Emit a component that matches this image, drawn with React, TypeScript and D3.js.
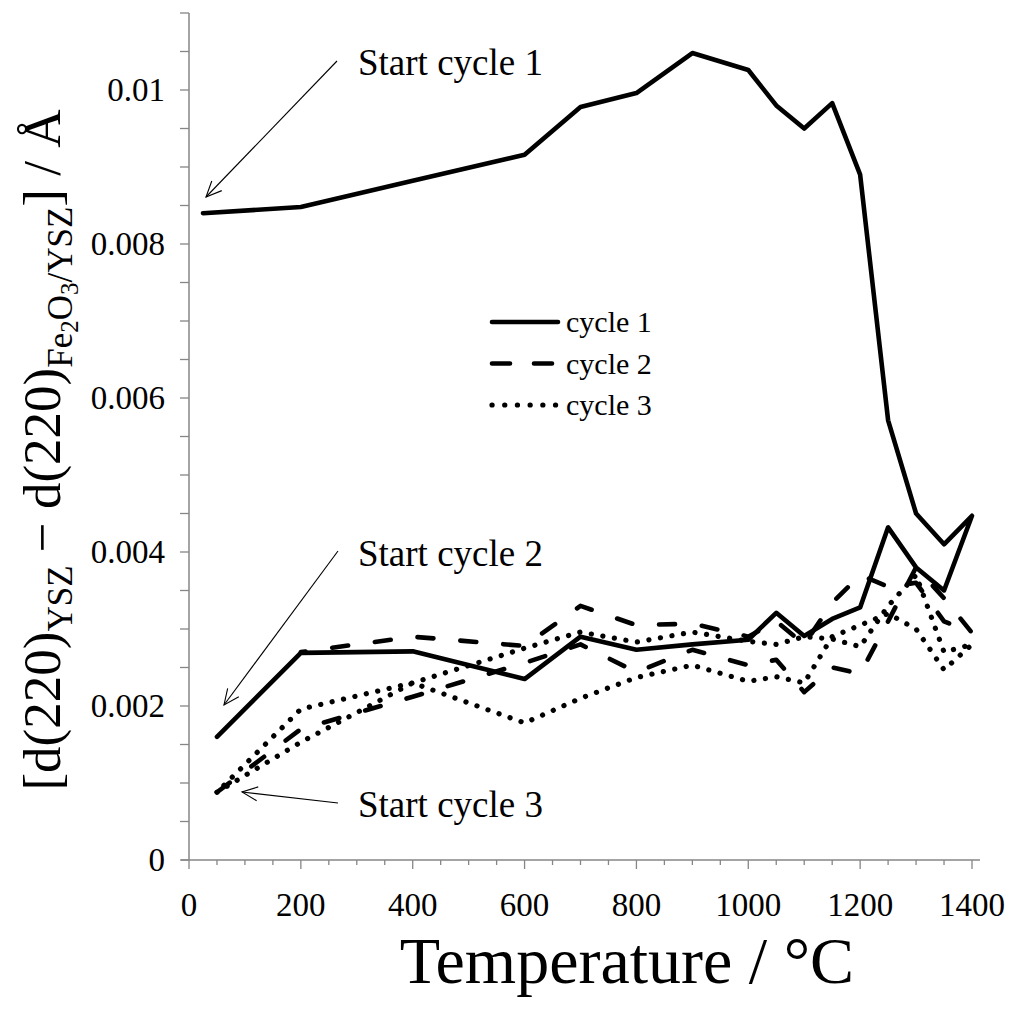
import React from "react";
import * as d3 from "d3";

// ---- data ----
const cycle1T = [25, 200, 400, 600, 700, 800, 900, 1000, 1050, 1100, 1150, 1200, 1250, 1300, 1350, 1400, 1350, 1300, 1250, 1200, 1150, 1100, 1050, 1000, 900, 800, 700, 600, 400, 200, 50];
const cycle1V = [0.0084, 0.00848, 0.00882, 0.00916, 0.00978, 0.00996, 0.01048, 0.01026, 0.0098, 0.0095, 0.00983, 0.0089, 0.00571, 0.0045, 0.0041, 0.00447, 0.0035, 0.0038, 0.00432, 0.00328, 0.00313, 0.00291, 0.00321, 0.00286, 0.0028, 0.00273, 0.0029, 0.00235, 0.00271, 0.00269, 0.0016];

const cycle2T = [50, 200, 400, 600, 700, 800, 900, 1000, 1050, 1100, 1150, 1200, 1250, 1300, 1350, 1400, 1350, 1300, 1250, 1200, 1150, 1100, 1050, 1000, 900, 800, 700, 600, 400, 200];
const cycle2V = [0.00088, 0.0017, 0.00212, 0.00256, 0.0028, 0.00244, 0.00273, 0.00253, 0.0026, 0.00218, 0.0025, 0.00242, 0.0031, 0.0038, 0.0034, 0.00295, 0.0031, 0.0036, 0.00355, 0.0037, 0.00334, 0.0028, 0.0031, 0.0029, 0.00307, 0.00305, 0.0033, 0.00278, 0.0029, 0.0027];

const cycle3T = [50, 200, 400, 600, 700, 800, 900, 1000, 1050, 1100, 1150, 1200, 1250, 1300, 1350, 1400, 1350, 1300, 1250, 1200, 1150, 1100, 1050, 1000, 900, 800, 700, 600, 400, 200, 50];
const cycle3V = [0.00088, 0.00153, 0.0023, 0.00178, 0.0021, 0.00237, 0.00253, 0.00232, 0.00238, 0.0023, 0.0029, 0.00305, 0.0032, 0.003, 0.00247, 0.0028, 0.0027, 0.0037, 0.0033, 0.00277, 0.00287, 0.0029, 0.0028, 0.00284, 0.00296, 0.00283, 0.00296, 0.00275, 0.0023, 0.00196, 0.00088];

const xTickLabels = [0, 200, 400, 600, 800, 1000, 1200, 1400];
const yTickLabels = [0, 0.002, 0.004, 0.006, 0.008, 0.01];
const legendLabels = ["cycle 1", "cycle 2", "cycle 3"];
const annotationLabels = ["Start cycle 1", "Start cycle 2", "Start cycle 3"];

const FONT = "'Liberation Serif', 'Times New Roman', serif";
const AXIS = "#868686";

const x = d3.scaleLinear().domain([0, 1400]).range([189, 972]);
const y = d3.scaleLinear().domain([0, 0.011]).range([860, 13]);

const lineGen = d3
  .line<[number, number]>()
  .x((d) => x(d[0]))
  .y((d) => y(d[1]));

const zip = (t: number[], v: number[]) => t.map((tt, i) => [tt, v[i]] as [number, number]);

const styles = [
  { dash: undefined as string | undefined, width: 4.6 },
  { dash: "16 27", width: 4.6 },
  { dash: "0.1 11.6", width: 5.2 },
];

function Arrow({ x1, y1, x2, y2 }: { x1: number; y1: number; x2: number; y2: number }) {
  const ang = Math.atan2(y2 - y1, x2 - x1);
  const len = 17;
  const spread = 0.42;
  const a1 = ang + Math.PI - spread;
  const a2 = ang + Math.PI + spread;
  return (
    <g stroke="#000" strokeWidth={1.1} fill="none">
      <line x1={x1} y1={y1} x2={x2} y2={y2} />
      <polyline
        points={`${x2 + len * Math.cos(a1)},${y2 + len * Math.sin(a1)} ${x2},${y2} ${x2 + len * Math.cos(a2)},${y2 + len * Math.sin(a2)}`}
      />
    </g>
  );
}

export default function App() {
  const series = [zip(cycle1T, cycle1V), zip(cycle2T, cycle2V), zip(cycle3T, cycle3V)];
  const xMinor = d3.range(0, 1401, 50);
  const yMinor = d3.range(0, 0.01101, 0.0005);

  const annotations = [
    { tx: 358, ty: 75, x1: 337, y1: 61, x2: 206, y2: 197 },
    { tx: 358, ty: 566, x1: 338, y1: 551, x2: 224, y2: 705 },
    { tx: 358, ty: 817, x1: 338, y1: 803, x2: 242, y2: 792 },
  ];

  return (
    <svg
      width={1010}
      height={1028}
      style={{ position: "absolute", left: 0, top: 0, background: "#fff" }}
      fontFamily={FONT}
    >
      <rect x={0} y={0} width={1010} height={1028} fill="#fff" />
      {/* axes */}
      <line x1={x(0)} y1={y(0.011)} x2={x(0)} y2={y(0)} stroke={AXIS} strokeWidth={1.5} />
      <line x1={181} y1={y(0)} x2={980} y2={y(0)} stroke={AXIS} strokeWidth={1.5} />
      {yMinor.map((v, i) => (
        <line key={"ym" + i} x1={x(0) - 9} x2={x(0)} y1={y(v)} y2={y(v)} stroke={AXIS} strokeWidth={1.3} />
      ))}
      {xMinor.map((v, i) => (
        <line
          key={"xm" + i}
          x1={x(v)}
          x2={x(v)}
          y1={y(0)}
          y2={y(0) + (v % 200 === 0 ? 9 : 5)}
          stroke={AXIS}
          strokeWidth={1.3}
        />
      ))}
      {yTickLabels.map((v, i) => (
        <text key={"yl" + i} x={165} y={y(v) + 11} textAnchor="end" fontSize={33} fill="#000">
          {v === 0 ? "0" : String(v)}
        </text>
      ))}
      {xTickLabels.map((v, i) => (
        <text key={"xl" + i} x={x(v)} y={916} textAnchor="middle" fontSize={33} fill="#000">
          {v}
        </text>
      ))}

      {/* axis titles */}
      <text x={627} y={983} textAnchor="middle" fontSize={66} fill="#000">
        Temperature / °C
      </text>
      <text transform="translate(60,450) rotate(-90)" textAnchor="middle" fontSize={53} fill="#000">
        <tspan>[d(220)</tspan>
        <tspan fontSize={35} dy={12}>YSZ</tspan>
        <tspan dy={-12}> − d(220)</tspan>
        <tspan fontSize={35} dy={12}>Fe</tspan>
        <tspan fontSize={25} dy={6}>2</tspan>
        <tspan fontSize={35} dy={-6}>O</tspan>
        <tspan fontSize={25} dy={6}>3</tspan>
        <tspan fontSize={35} dy={-6}>/YSZ</tspan>
        <tspan dy={-12}>] / Å</tspan>
      </text>

      {/* series */}
      {series.map((s, i) => (
        <path
          key={"s" + i}
          d={lineGen(s) || ""}
          fill="none"
          stroke="#000"
          strokeWidth={styles[i].width}
          strokeDasharray={styles[i].dash}
          strokeLinecap="round"
          strokeLinejoin="round"
        />
      ))}

      {/* legend */}
      {legendLabels.map((lab, i) => {
        const ly = 322 + i * 41.5;
        return (
          <g key={"lg" + i}>
            <line
              x1={492}
              x2={558}
              y1={ly}
              y2={ly}
              stroke="#000"
              strokeWidth={styles[i].width}
              strokeDasharray={i === 1 ? "18 24" : i === 2 ? "0.1 12.6" : undefined}
              strokeLinecap="round"
            />
            <text x={566} y={ly + 10} fontSize={30} fill="#000">
              {lab}
            </text>
          </g>
        );
      })}

      {/* annotations */}
      {annotations.map((a, i) => (
        <g key={"an" + i}>
          <Arrow x1={a.x1} y1={a.y1} x2={a.x2} y2={a.y2} />
          <text x={a.tx} y={a.ty} fontSize={37} fill="#000">
            {annotationLabels[i]}
          </text>
        </g>
      ))}
    </svg>
  );
}
